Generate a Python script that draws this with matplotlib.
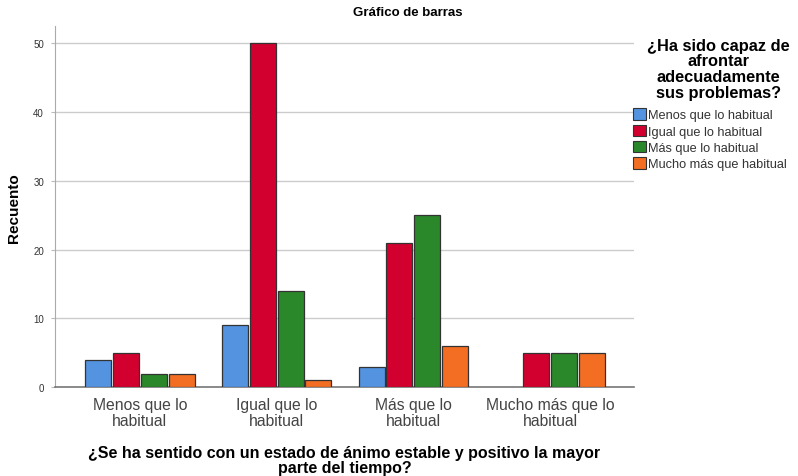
import numpy as np
import matplotlib
matplotlib.use("Agg")
import matplotlib.pyplot as plt
from matplotlib.patches import Patch

plt.rcParams['font.family'] = ['Liberation Sans', 'DejaVu Sans']

# data
categories = ["Menos que lo\nhabitual", "Igual que lo\nhabitual", "Más que lo\nhabitual", "Mucho más que lo\nhabitual"]
series_names = ["Menos que lo habitual", "Igual que lo habitual", "Más que lo habitual", "Mucho más que habitual"]
menos = [4, 9, 3, 0]
igual = [5, 50, 21, 5]
mas = [2, 14, 25, 5]
mucho = [2, 1, 6, 5]
yticks = [0, 10, 20, 30, 40, 50]

colors = ["#5393DF", "#D2002E", "#2A882B", "#F36E22"]
series = [menos, igual, mas, mucho]

fig = plt.figure(figsize=(7.98, 4.77), dpi=100)
ax = fig.add_axes([0.069, 0.186, 0.725, 0.757])

x = np.arange(len(categories))
step = 0.204
width = 0.19
for i, (vals, col) in enumerate(zip(series, colors)):
    pos = x + (i - 1.5) * step
    v = np.array(vals, dtype=float)
    m = v > 0
    ax.bar(pos[m], v[m], width=width, color=col, edgecolor="#333333", linewidth=0.9, zorder=3)

ax.set_xlim(-0.62, 3.61)
ax.set_ylim(0, 52.5)
ax.set_yticks(yticks)
ax.set_yticklabels([str(t) for t in yticks], fontsize=7, color="#333333")
ax.set_xticks(x)
ax.set_xticklabels(categories, fontsize=11.3, color="#444444", linespacing=1.08)
ax.tick_params(axis='y', length=3, color="#bbbbbb", pad=5)
ax.tick_params(axis='x', length=0, pad=7)
ax.yaxis.grid(True, color="#cccccc", linewidth=1, zorder=0)
ax.set_axisbelow(True)
for s in ["top", "right"]:
    ax.spines[s].set_visible(False)
ax.spines["left"].set_color("#aaaaaa")
ax.spines["bottom"].set_color("#777777")
ax.spines["bottom"].set_linewidth(1.2)

ax.set_ylabel("Recuento", fontsize=11, fontweight="bold", labelpad=9)
ax.set_xlabel("¿Se ha sentido con un estado de ánimo estable y positivo la mayor\nparte del tiempo?",
              fontsize=11.5, fontweight="bold", labelpad=12, linespacing=1.05)
fig.text(0.511, 0.972, "Gráfico de barras", ha="center", va="center", fontsize=9.5, fontweight="bold")

fig.text(0.9, 0.854, "¿Ha sido capaz de\nafrontar\nadecuadamente\nsus problemas?", ha="center", va="center",
         fontsize=11.8, fontweight="bold", linespacing=1.06)
handles = [Patch(facecolor=c, edgecolor="#333333", linewidth=0.8) for c in colors]
fig.legend(handles, series_names, loc="upper left", bbox_to_anchor=(0.793, 0.771), frameon=False,
           fontsize=9.2, handlelength=1.0, handleheight=1.0, handletextpad=0.2, labelspacing=0.25,
           borderaxespad=0, borderpad=0, labelcolor="#333333")

fig.savefig("out.png", dpi=100)
